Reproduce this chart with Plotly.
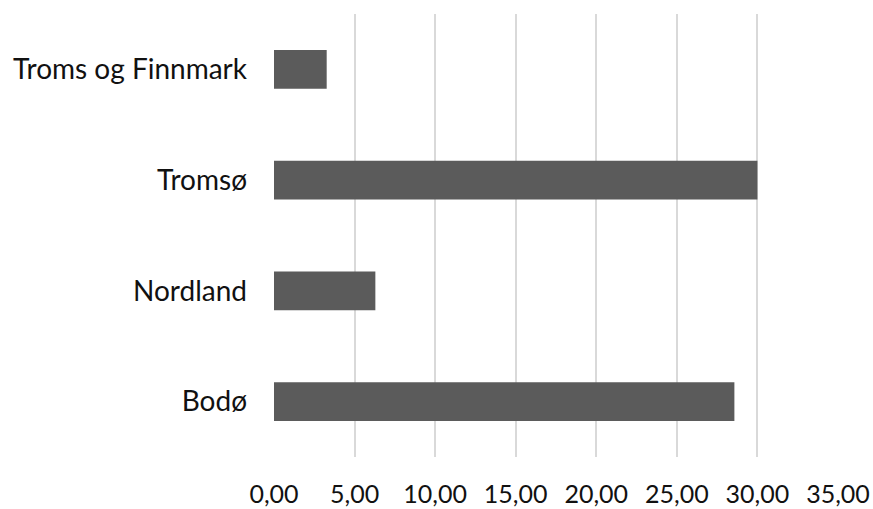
import plotly.graph_objects as go

# Regions (drawn bottom to top) and their values
regions = ["Bodø", "Nordland", "Tromsø", "Troms og Finnmark"]
values = [28.57, 6.29, 30.0, 3.27]

# Axis ticks
x_ticks = [0, 5, 10, 15, 20, 25, 30, 35]

FONT = "Lato"

fig = go.Figure(
    go.Bar(
        x=values,
        y=regions,
        orientation="h",
        width=0.35,
        marker=dict(color="#5b5b5b", line=dict(width=0)),
        hoverinfo="skip",
    )
)

fig.update_layout(
    width=873,
    height=509,
    margin=dict(l=274, r=35, t=14, b=52),
    paper_bgcolor="white",
    plot_bgcolor="white",
    separators=",.",
    showlegend=False,
    font=dict(family=FONT, size=27, color="#111111"),
)

fig.update_xaxes(
    range=[0, 35],
    tickvals=x_ticks,
    tickformat=".2f",
    tickfont=dict(size=25),
    showgrid=True,
    gridcolor="#d9d9d9",
    gridwidth=1.5,
    zeroline=False,
    showline=False,
    ticks="",
    ticklabelstandoff=20,
    automargin=False,
    fixedrange=True,
)

fig.update_yaxes(
    type="category",
    categoryorder="array",
    categoryarray=regions,
    showgrid=False,
    zeroline=False,
    showline=False,
    ticks="",
    tickfont=dict(size=28),
    ticklabelstandoff=26,
    automargin=False,
    fixedrange=True,
)

fig.write_html("out.html")
